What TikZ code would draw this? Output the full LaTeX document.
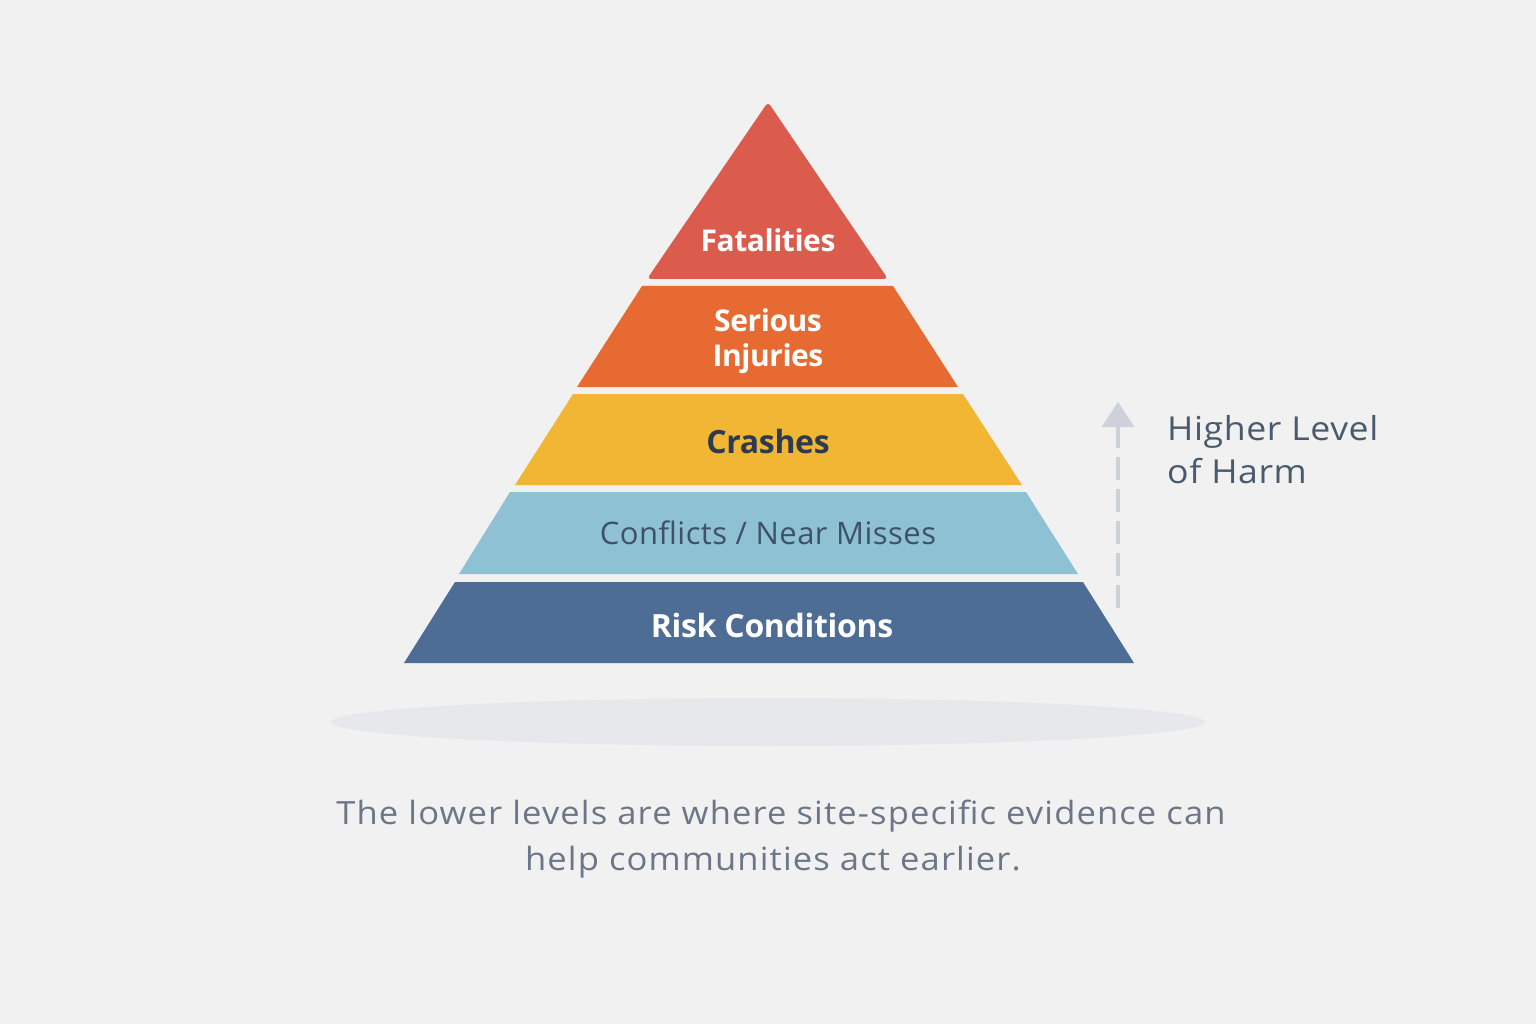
\documentclass[tikz,border=0pt]{standalone}
\usepackage{fontspec}
\setmainfont{Open Sans}
\newfontfamily\tightA{Open Sans}[LetterSpace=-1.5]
\newfontfamily\tightB{Open Sans}[LetterSpace=-1]
\newfontfamily\capfont{Open Sans}[FakeStretch=1.08,LetterSpace=3.5]
\newfontfamily\sidefont{Open Sans}[FakeStretch=1.08,LetterSpace=1.8]
\newfontfamily\midfont{Open Sans}[LetterSpace=1.5]
\usetikzlibrary{arrows.meta}
\definecolor{bg}{HTML}{F1F1F1}
\definecolor{cFat}{HTML}{DB5B4D}
\definecolor{cSer}{HTML}{E66A31}
\definecolor{cCra}{HTML}{F1B734}
\definecolor{cCon}{HTML}{8FC1D5}
\definecolor{cRis}{HTML}{4E6D95}
\definecolor{txtDark}{HTML}{2D3B4E}
\definecolor{txtMid}{HTML}{3E5267}
\definecolor{txtSide}{HTML}{4A5A6D}
\definecolor{txtCap}{HTML}{6B7686}
\definecolor{arrowgray}{HTML}{CDD2DA}
\definecolor{shadowc}{HTML}{E7E8EC}
\begin{document}
\begin{tikzpicture}[x=1pt,y=-1pt,
  lbl/.style={anchor=base, inner sep=0pt, font=\fontsize{31}{36}\midfont},
  lblbold/.style={anchor=base, inner sep=0pt, font=\fontsize{30}{36}\tightA\bfseries},
  lblbig/.style={anchor=base, inner sep=0pt, font=\fontsize{32}{36}\tightB\bfseries},
  sidelbl/.style={anchor=base west, inner sep=0pt, text=txtSide, font=\fontsize{33}{43}\sidefont},
  caplbl/.style={anchor=base, inner sep=0pt, text=txtCap, font=\fontsize{32}{46}\capfont},
]
\fill[bg] (0,0) rectangle (1536,1024);
\useasboundingbox (0,0) rectangle (1536,1024);
% shadow
\fill[shadowc] (768,722) ellipse [x radius=437, y radius=24];
% bands
\fill[cFat, rounded corners=4] (647,279) -- (768,102) -- (888,279) -- cycle;
\fill[cFat] (650,279) -- (885,279) -- (880,270) -- (655,270) -- cycle;
\fill[cSer] (642,286) -- (893,286) -- (958,387) -- (577,387) -- cycle;
\fill[cCra] (573,394) -- (963,394) -- (1022,485) -- (515,485) -- cycle;
\fill[cCon] (510,492) -- (1026,492) -- (1078,574) -- (459,574) -- cycle;
\fill[cRis] (455,582) -- (1083,582) -- (1134,663) -- (404,663) -- cycle;
% labels
\node[lblbold, text=white] (fat) at (768,252) {Fatalities};
\node[lblbold, text=white] (ser1) at (768,331) {Serious};
\node[lblbold, text=white] (ser2) at (768,366) {Injuries};
\node[lblbig, text=txtDark] (cra) at (768,453) {Crashes};
\node[lbl, text=txtMid] (con) at (768,544) {Conflicts / Near Misses};
\node[lblbig, text=white] (ris) at (772,637) {Risk Conditions};
% arrow
\coordinate (abot) at (1118,608);
\coordinate (atop) at (1118,402);
\draw[arrowgray, line width=4, dash pattern=on 23 off 9,
  -{Triangle[width=32,length=25]}] (abot) -- (atop);
\node[sidelbl] (h1) at (1167,440) {Higher Level};
\node[sidelbl] (h2) at (1167,483) {of Harm};
% caption
\node[caplbl] (cap1) at (781,824) {The lower levels are where site-specific evidence can};
\node[caplbl] (cap2) at (773,870) {help communities act earlier.};
\end{tikzpicture}
\end{document}
